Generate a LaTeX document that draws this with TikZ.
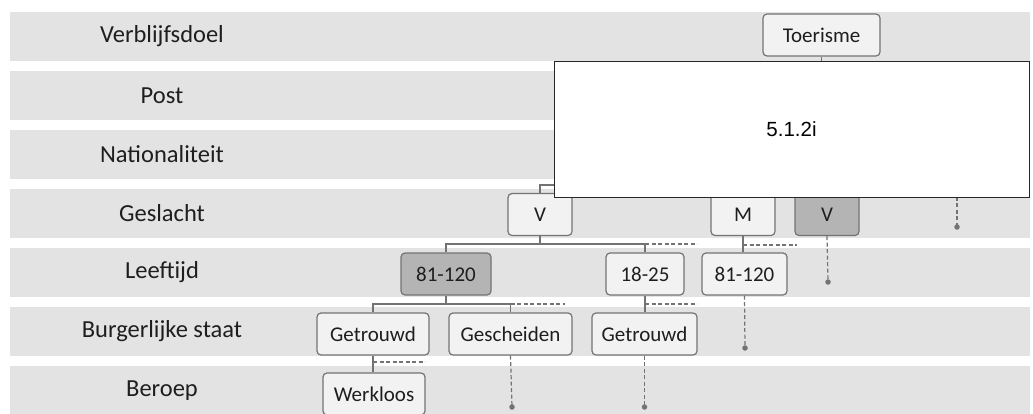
\documentclass[tikz,border=0pt]{standalone}
\usepackage{fontspec}
\setmainfont{Carlito}
\newfontfamily\arialfont{Liberation Sans}
\definecolor{bandgray}{HTML}{E3E3E3}
\definecolor{boxfill}{HTML}{F2F2F2}
\definecolor{darkfill}{HTML}{B4B4B4}
\definecolor{linegray}{HTML}{737373}
\definecolor{txt}{HTML}{1E1E1E}
\begin{document}
\begin{tikzpicture}[x=1pt,y=-1pt,
  band/.style={fill=bandgray},
  lab/.style={font=\fontsize{24.5}{28}\selectfont, text=txt, inner sep=0pt},
  box/.style={draw=linegray, fill=boxfill, rounded corners=4pt, line width=1.2pt, inner sep=0pt, font=\fontsize{21}{25}\selectfont, text=txt, minimum height=42pt},
  darkbox/.style={box, fill=darkfill},
  conn/.style={draw=linegray, line width=1.2pt},
  dconn/.style={conn, dash pattern=on 4pt off 2.5pt},
  enddot/.style={circle, fill=linegray, inner sep=0pt, minimum size=5.5pt}]
\useasboundingbox (0,0) rectangle (1033,413);
\fill[white] (0,0) rectangle (1033,413);
% bands
\foreach \t in {12,71,130,189,248,307,366}
  \path[band] (10,\t) rectangle (1030,\t+49);
% labels
\node[lab] (lverb) at (162,36.5) {Verblijfsdoel};
\node[lab] (lpost) at (162,95.5) {Post};
\node[lab] (lnat)  at (162,154.5) {Nationaliteit};
\node[lab] (lges)  at (162,213.5) {Geslacht};
\node[lab] (lleef) at (162,272.5) {Leeftijd};
\node[lab] (lburg) at (162,331.5) {Burgerlijke staat};
\node[lab] (lber)  at (162,390.5) {Beroep};
% hidden junctions (under the white box)
\coordinate (nat) at (791,185);
\coordinate (rdash) at (957,190);
% boxes
\node[box, minimum width=117pt] (toer) at (821.5,35) {Toerisme};
\node[box, minimum width=64pt] (v1) at (540,214.5) {V};
\node[box, minimum width=64pt] (m1) at (743,214.5) {M};
\node[darkbox, minimum width=64pt] (v2) at (827,214.5) {V};
\node[darkbox, minimum width=90pt] (l1) at (446,274) {81-120};
\node[box, minimum width=78pt] (l2) at (645,274) {18-25};
\node[box, minimum width=85pt] (l3) at (744.5,274) {81-120};
\node[box, minimum width=112pt] (b1) at (373,334) {Getrouwd};
\node[box, minimum width=123pt] (b2) at (510.5,334) {Gescheiden};
\node[box, minimum width=105pt] (b3) at (644.5,334) {Getrouwd};
\node[box, minimum width=102pt] (w1) at (374,394) {Werkloos};
% end dots
\node[enddot] (d1) at (957,227) {};
\node[enddot] (d2) at (828,282) {};
\node[enddot] (d3) at (745,348) {};
\node[enddot] (d4) at (512,407) {};
\node[enddot] (d5) at (644.5,407) {};
% connectors
\draw[conn] (v1.north) |- (nat);
\draw[dconn] (rdash) -- (d1.center);
\draw[conn] (v1.south) -- (540,244) -| (l1.north);
\draw[conn] (540,244) -| (l2.north);
\draw[dconn] (l2.north |- 0,244) -- (697,244);
\draw[conn] (m1.south) -- (m1.south |- l3.north);
\draw[dconn] (m1.south |- 0,245) -- (797,245);
\draw[dconn] (v2.south) -- (d2.center);
\draw[conn] (l1.south) -- (446,304) -| (b1.north);
\draw[conn] (446,304) -| (b2.north);
\draw[dconn] (b2.north |- 0,304) -- (565,304);
\draw[conn] (l2.south) -- (b3.north -| l2.south);
\draw[dconn] (l2.south |- 0,304) -- (697,304);
\draw[dconn] (l3.south) -- (d3.center);
\draw[conn] (b1.south) -- (b1.south |- w1.north);
\draw[dconn] (b1.south |- 0,362) -- (425,362);
\draw[dconn] (b2.south) -- (d4.center);
\draw[dconn] (b3.south) -- (d5.center);
% white box
\node[draw=black!85, fill=white, line width=1pt, minimum width=475pt, minimum height=136pt, inner sep=0pt, font=\arialfont\fontsize{20.5}{24}\selectfont] (wb) at (791.5,129) {5.1.2i};
\draw[conn] (toer.south) -- (toer.south |- wb.north);
\end{tikzpicture}
\end{document}
